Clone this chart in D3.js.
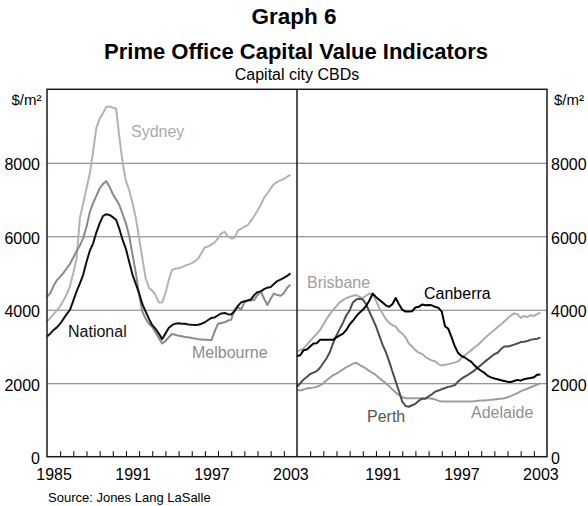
<!DOCTYPE html>
<html><head><meta charset="utf-8">
<script src="https://cdn.jsdelivr.net/npm/d3@7"></script>
<style>body{margin:0;background:#fff}svg{display:block}text{font-family:Arial,"Liberation Sans",sans-serif}</style>
</head><body><svg id="c" width="588" height="506"></svg>
<script>
// quarterly observations
const quarters = [1985,1985.25,1985.5,1985.75,1986,1986.25,1986.5,1986.75,1987,1987.25,1987.5,1987.75,1988,1988.25,1988.5,1988.75,1989,1989.25,1989.5,1989.75,1990,1990.25,1990.5,1990.75,1991,1991.25,1991.5,1991.75,1992,1992.25,1992.5,1992.75,1993,1993.25,1993.5,1993.75,1994,1994.25,1994.5,1994.75,1995,1995.25,1995.5,1995.75,1996,1996.25,1996.5,1996.75,1997,1997.25,1997.5,1997.75,1998,1998.25,1998.5,1998.75,1999,1999.25,1999.5,1999.75,2000,2000.25,2000.5,2000.75,2001,2001.25,2001.5,2001.75,2002,2002.25,2002.5,2002.75,2003,2003.25,2003.5];

const sydney = [3680,3780,3880,3980,4100,4250,4420,4650,5000,5400,6500,6900,7300,7700,8300,8950,9200,9350,9520,9530,9500,9480,8700,8000,7500,7250,6900,6500,5950,5400,4850,4600,4520,4400,4200,4200,4450,4800,5080,5120,5130,5160,5200,5230,5270,5320,5400,5550,5700,5720,5780,5830,5950,6080,6120,6000,5940,5950,6150,6200,6260,6300,6420,6550,6700,6850,7050,7170,7300,7420,7480,7520,7560,7620,7670];
const melbourne = [4350,4450,4650,4800,4900,5000,5130,5250,5420,5600,5750,5950,6250,6650,6900,7100,7300,7420,7500,7350,7150,7000,6850,6600,6350,6000,5500,5000,4400,3950,3750,3620,3530,3380,3230,3080,3150,3250,3340,3320,3290,3280,3260,3250,3230,3220,3200,3190,3180,3180,3170,3420,3620,3640,3660,3700,3730,4000,4080,4000,4200,4250,4250,4270,4400,4500,4300,4130,4300,4440,4400,4380,4450,4600,4680];
const national = [3270,3350,3450,3520,3620,3750,3880,4000,4250,4500,4720,4950,5300,5600,5800,6100,6350,6550,6600,6580,6520,6450,6200,5900,5650,5300,4950,4700,4450,4150,3950,3750,3580,3480,3350,3200,3350,3500,3580,3620,3630,3620,3620,3600,3590,3585,3590,3620,3660,3720,3780,3790,3850,3900,3910,3880,3870,3960,4100,4200,4230,4250,4280,4400,4480,4500,4560,4600,4620,4700,4780,4820,4870,4920,4990];
const brisbane = [2870,2900,2950,3050,3150,3250,3340,3450,3600,3750,3880,4000,4100,4200,4260,4320,4350,4380,4400,4350,4320,4380,4440,4420,4250,4050,3900,3750,3650,3580,3540,3420,3350,3250,3080,3000,2900,2830,2800,2720,2660,2620,2600,2520,2480,2500,2520,2540,2560,2600,2680,2760,2830,2900,2980,3040,3130,3220,3300,3380,3450,3530,3600,3680,3760,3840,3900,3880,3780,3830,3800,3850,3830,3880,3920];
const canberra = [2740,2760,2900,2920,3000,3080,3090,3180,3180,3180,3180,3180,3250,3300,3350,3450,3600,3700,3820,3920,4000,4100,4250,4440,4350,4270,4200,4120,4080,4150,4320,4150,4000,3950,3950,3960,4060,4080,4140,4120,4130,4120,4080,4050,3950,3550,3480,3250,3000,2820,2740,2700,2640,2580,2480,2400,2340,2280,2200,2160,2130,2110,2080,2060,2040,2030,2060,2090,2070,2110,2130,2140,2160,2230,2240];
const perth = [1900,2000,2100,2170,2250,2290,2330,2420,2550,2680,2850,3100,3300,3480,3650,3850,3980,4200,4280,4300,4280,4150,3950,3750,3550,3300,3050,2850,2600,2320,2050,1780,1500,1380,1360,1400,1440,1520,1580,1580,1640,1700,1770,1800,1840,1870,1900,1920,1950,2050,2120,2180,2230,2290,2350,2430,2500,2580,2650,2720,2790,2830,2930,3000,3000,3020,3050,3080,3120,3130,3150,3180,3200,3210,3240];
const adelaide = [1820,1800,1830,1860,1870,1880,1900,1940,2000,2080,2150,2220,2260,2320,2380,2440,2480,2530,2560,2500,2450,2400,2330,2280,2220,2140,2070,2000,1920,1830,1750,1680,1620,1590,1590,1590,1590,1590,1590,1590,1590,1580,1560,1520,1500,1500,1500,1500,1500,1500,1500,1500,1500,1500,1510,1520,1530,1530,1540,1550,1560,1570,1580,1590,1620,1650,1690,1730,1780,1820,1850,1890,1930,1960,2000];

const yTicks = [0,2000,4000,6000,8000];
const leftYearLabels = [1985,1991,1997,2003];
const rightYearLabels = [1991,1997,2003];

const svg = d3.select("#c");
const L = 47, M = 297, R = 547, T = 89.3, B = 456.7;
const y = d3.scaleLinear().domain([0,10000]).range([B,T]);
const xL = d3.scaleLinear().domain([1985,2004]).range([L,M]);
const xR = d3.scaleLinear().domain([1985,2004]).range([M,R]);

// titles
svg.append("text").attr("x",294).attr("y",23.5).attr("text-anchor","middle").attr("font-weight","bold").attr("font-size",22.5).text("Graph 6");
svg.append("text").attr("x",296).attr("y",58.5).attr("text-anchor","middle").attr("font-weight","bold").attr("font-size",22).text("Prime Office Capital Value Indicators");
svg.append("text").attr("x",297).attr("y",80).attr("text-anchor","middle").attr("font-size",16).text("Capital city CBDs");

// gridlines
const grid = svg.append("g").attr("transform",`translate(${L},0)`)
  .call(d3.axisLeft(y).tickValues(yTicks.filter(d=>d>0)).tickSize(-(R-L)).tickFormat(""));
grid.select(".domain").remove();
grid.selectAll("line").attr("stroke","#7a7a7a").attr("stroke-width",1);

// y labels
const yl = svg.append("g").attr("transform",`translate(${L-5},2)`)
  .call(d3.axisLeft(y).tickValues(yTicks).tickSize(0).tickPadding(2).tickFormat(d3.format("d")));
yl.select(".domain").remove();
yl.selectAll("text").attr("font-size",16).attr("font-family","Arial, Liberation Sans").attr("fill","#000");
const yr = svg.append("g").attr("transform",`translate(${R+2},2)`)
  .call(d3.axisRight(y).tickValues(yTicks).tickSize(0).tickPadding(2).tickFormat(d3.format("d")));
yr.select(".domain").remove();
yr.selectAll("text").attr("font-size",16).attr("font-family","Arial, Liberation Sans").attr("fill","#000");
svg.append("text").attr("x",41.5).attr("y",105).attr("text-anchor","end").attr("font-size",15).text("$/m²");
svg.append("text").attr("x",554).attr("y",105).attr("font-size",15).text("$/m²");

// x ticks
const yearTicks = d3.range(1986,2004);
[xL,xR].forEach(x=>{
  const g = svg.append("g").attr("transform",`translate(0,${B})`)
    .call(d3.axisBottom(x).tickValues(yearTicks).tickSizeInner(-5.5).tickSizeOuter(0).tickFormat(""));
  g.select(".domain").remove();
  g.selectAll("line").attr("stroke","#000").attr("stroke-width",1);
});
const xlab = (x,vals)=>{
  const g = svg.append("g").attr("transform",`translate(0,${B+12})`)
    .call(d3.axisBottom(x).tickValues(vals.map(v=>v+0.5)).tickSize(0).tickPadding(0).tickFormat(d=>String(Math.floor(d))));
  g.select(".domain").remove();
  g.selectAll("text").attr("font-size",16).attr("font-family","Arial, Liberation Sans").attr("fill","#000");
};
xlab(xL,leftYearLabels); xlab(xR,rightYearLabels);

// lines
function draw(x,data,color){
  const line = d3.line().x((d,i)=>x(quarters[i])).y(d=>y(d));
  svg.append("path").datum(data).attr("d",line).attr("fill","none").attr("stroke",color).attr("stroke-width",2).attr("stroke-linejoin","round");
}
draw(xL,sydney,"#b3b3b3");
draw(xL,melbourne,"#8a8a8a");
draw(xL,national,"#111");
draw(xR,brisbane,"#ababab");
draw(xR,adelaide,"#9c9c9c");
draw(xR,perth,"#4d4d4d");
draw(xR,canberra,"#000");

// frame
const fr = svg.append("g").attr("stroke","#1a1a1a").attr("stroke-width",1.5);
fr.append("rect").attr("x",L).attr("y",T).attr("width",R-L).attr("height",B-T).attr("fill","none");
fr.append("line").attr("x1",M).attr("x2",M).attr("y1",T).attr("y2",B);

// series labels
const labels = [
  ["Sydney",131,137,"#aaaaaa"],["National",68,336.7,"#111"],["Melbourne",192,358.3,"#8c8c8c"],
  ["Brisbane",307,288.3,"#a0a0a0"],["Canberra",424,299.3,"#000"],["Perth",367,422.3,"#555"],["Adelaide",471,418.3,"#909090"]
];
labels.forEach(([t,x,yy,c])=>svg.append("text").attr("x",x).attr("y",yy).attr("font-size",16).attr("fill",c).text(t));

// source
svg.append("text").attr("x",48).attr("y",501.5).attr("font-size",13).text("Source: Jones Lang LaSalle");
</script></body></html>
